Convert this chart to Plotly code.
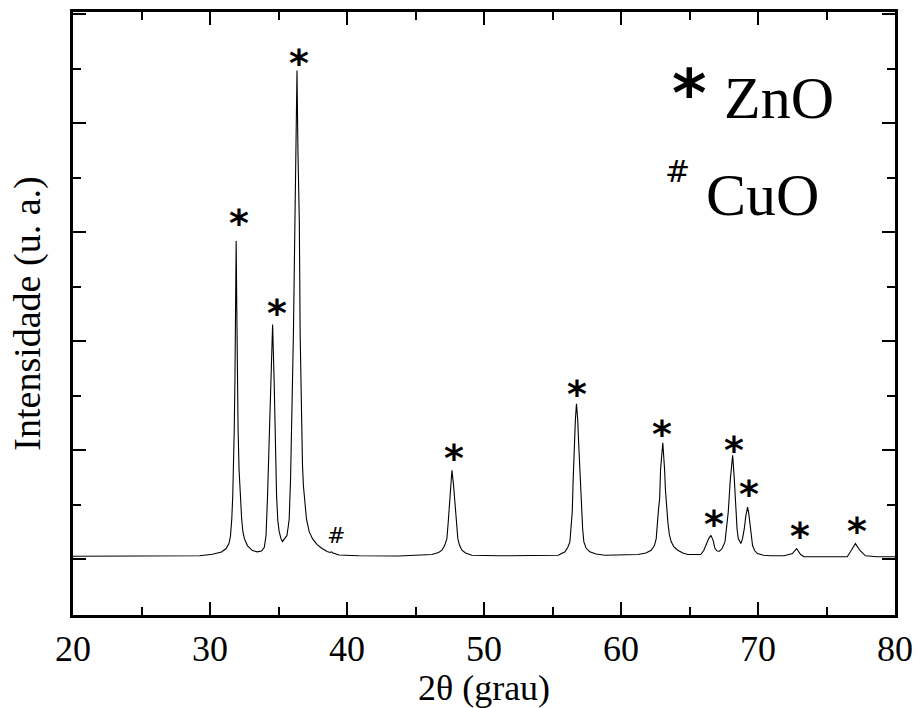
import plotly.graph_objects as go

# Diffractogram: 2theta (deg) and intensity (a.u.)
two_theta = [
    20.00, 21.96, 24.15, 26.33, 28.51, 29.24, 30.18, 30.84, 31.18, 31.38,
    31.49, 31.59, 31.66, 31.71, 31.77, 31.82, 31.87, 31.91, 31.95, 32.00,
    32.05, 32.12, 32.20, 32.31, 32.40, 32.51, 32.73, 33.09, 33.45, 33.75,
    33.96, 34.09, 34.20, 34.28, 34.33, 34.44, 34.57, 34.68, 34.76, 34.86,
    34.95, 35.05, 35.18, 35.29, 35.44, 35.61, 35.71, 35.78, 35.88, 35.95,
    36.04, 36.09, 36.20, 36.27, 36.35, 36.42, 36.47, 36.52, 36.58, 36.68,
    36.75, 36.82, 36.93, 37.04, 37.24, 37.48, 37.82, 38.18, 38.55, 38.76,
    38.87, 38.98, 39.42, 40.87, 43.78, 45.24, 46.20, 46.69, 46.93, 47.13,
    47.29, 47.38, 47.47, 47.56, 47.66, 47.77, 47.91, 48.00, 48.09, 48.22,
    48.39, 48.65, 49.11, 51.05, 53.96, 55.42, 55.91, 56.11, 56.27, 56.36,
    56.44, 56.51, 56.58, 56.67, 56.75, 56.84, 56.92, 57.02, 57.11, 57.20,
    57.29, 57.45, 57.72, 58.18, 58.82, 59.78, 61.24, 61.82, 62.20, 62.44,
    62.57, 62.74, 62.82, 62.89, 63.05, 63.18, 63.24, 63.42, 63.53, 63.66,
    63.85, 64.15, 64.51, 64.87, 65.82, 66.04, 66.20, 66.40, 66.57, 66.73,
    66.86, 67.02, 67.18, 67.38, 67.59, 67.71, 67.83, 67.98, 68.07, 68.15,
    68.27, 68.39, 68.47, 68.56, 68.75, 68.87, 69.00, 69.11, 69.24, 69.33,
    69.43, 69.53, 69.60, 69.75, 69.96, 70.40, 70.93, 71.91, 72.22, 72.51,
    72.82, 73.11, 73.36, 76.51, 76.75, 77.11, 77.43, 77.84, 78.69, 80.00,
]
intensity = [
    33, 33, 35, 35, 37, 37, 53, 75, 110, 160,
    230, 410, 640, 910, 1310, 1810, 2610, 3210, 2610, 1810,
    1310, 910, 640, 410, 280, 210, 140, 90, 77, 85,
    120, 240, 640, 1010, 1240, 1810, 2370, 1810, 1240, 640,
    390, 280, 210, 180, 210, 240, 330, 410, 810, 1240,
    1810, 2280, 3410, 4110, 4930, 4110, 3780, 3410, 2280, 1240,
    960, 740, 560, 410, 280, 210, 150, 110, 80, 70,
    77, 65, 45, 37, 35, 43, 50, 70, 93, 140,
    210, 360, 543, 760, 900, 760, 543, 360, 210, 140,
    93, 65, 43, 37, 37, 43, 77, 120, 177, 310,
    477, 810, 1143, 1410, 1570, 1410, 1143, 810, 477, 310,
    177, 115, 77, 55, 43, 43, 50, 65, 93, 140,
    210, 510, 610, 910, 1177, 910, 710, 377, 250, 180,
    130, 93, 65, 50, 50, 90, 143, 210, 243, 190,
    110, 85, 83, 110, 177, 310, 480, 810, 960, 1050,
    810, 480, 310, 210, 160, 210, 310, 440, 527, 460,
    343, 230, 143, 90, 60, 42, 37, 37, 45, 60,
    110, 50, 27, 27, 77, 160, 93, 37, 27, 27,
]

# Phase markers above the reflections
zno_peak_x = [32.15, 34.88, 36.48, 47.82, 56.82, 63.00, 66.78, 68.24, 69.33, 73.04, 77.26]
zno_peak_y = [3410, 2510, 5030, 1040, 1690, 1290, 380, 1120, 680, 260, 310]
cuo_peak_x = [39.20]
cuo_peak_y = [240]

x_tick_vals = [20, 30, 40, 50, 60, 70, 80]
x_tick_text = ["20", "30", "40", "50", "60", "70", "80"]

SERIF = "Liberation Serif"

fig = go.Figure()
fig.add_trace(go.Scatter(
    x=two_theta, y=intensity, mode="lines",
    line=dict(color="black", width=1.1),
    showlegend=False, hoverinfo="skip",
))

annotations = []
for px, py in zip(zno_peak_x, zno_peak_y):
    annotations.append(dict(
        x=px, y=py, xref="x", yref="y", text="*", showarrow=False,
        font=dict(family="DejaVu Sans", size=38, color="black", weight="bold"),
        xanchor="center", yanchor="middle", yshift=-2,
    ))
for px, py in zip(cuo_peak_x, cuo_peak_y):
    annotations.append(dict(
        x=px, y=py, xref="x", yref="y", text="#", showarrow=False,
        font=dict(family="DejaVu Sans", size=22, color="black"),
        xanchor="center", yanchor="middle",
    ))

# Legend-like key in the upper right
annotations += [
    dict(x=0.750, y=0.875, xref="paper", yref="paper", text="*", showarrow=False,
         font=dict(family="DejaVu Sans", size=66, color="black", weight="bold"),
         xanchor="center", yanchor="middle", yshift=-6),
    dict(x=0.790, y=0.857, xref="paper", yref="paper", text="ZnO", showarrow=False,
         font=dict(family=SERIF, size=60, color="black"),
         xanchor="left", yanchor="middle"),
    dict(x=0.735, y=0.736, xref="paper", yref="paper", text="#", showarrow=False,
         font=dict(family="DejaVu Sans", size=30, color="black"),
         xanchor="center", yanchor="middle"),
    dict(x=0.768, y=0.697, xref="paper", yref="paper", text="CuO", showarrow=False,
         font=dict(family=SERIF, size=60, color="black"),
         xanchor="left", yanchor="middle"),
]

fig.update_layout(
    width=922, height=708,
    margin=dict(l=73, r=24, t=9, b=91),
    paper_bgcolor="white", plot_bgcolor="white",
    font=dict(family=SERIF, color="black"),
    annotations=annotations,
    showlegend=False,
)
fig.update_xaxes(
    range=[20, 80], tickvals=x_tick_vals, ticktext=x_tick_text,
    ticks="inside", ticklen=13, tickwidth=2, tickcolor="black",
    minor=dict(ticks="inside", ticklen=8, tickwidth=2, tickcolor="black", dtick=5, tick0=20),
    showline=True, linewidth=2.5, linecolor="black", mirror="ticks",
    showgrid=False, zeroline=False,
    tickfont=dict(family=SERIF, size=36, color="black"),
    title=dict(text="2θ (grau)", font=dict(family=SERIF, size=36, color="black"), standoff=5),
)
fig.update_yaxes(
    range=[-560, 5520], tick0=0, dtick=1100,
    ticks="inside", ticklen=13, tickwidth=2, tickcolor="black",
    minor=dict(ticks="inside", ticklen=8, tickwidth=2, tickcolor="black", dtick=550, tick0=0),
    showline=True, linewidth=2.5, linecolor="black", mirror="ticks",
    showgrid=False, zeroline=False, showticklabels=False,
    title=dict(text="Intensidade (u. a.)", font=dict(family=SERIF, size=38, color="black"), standoff=18),
)

fig.write_html("out.html")
